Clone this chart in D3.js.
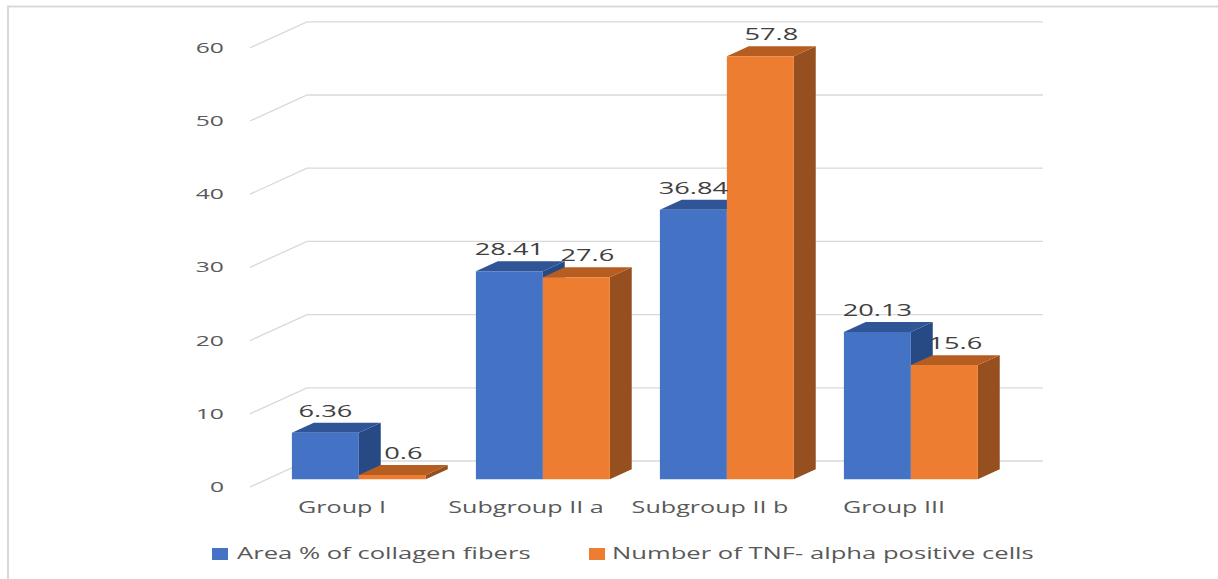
<!DOCTYPE html>
<html>
<head>
<meta charset="utf-8">
<script src="https://cdn.jsdelivr.net/npm/d3@7"></script>
<style>
  html, body { margin: 0; padding: 0; background: #ffffff; }
  svg { display: block; }
  text { font-family: "Open Sans", "DejaVu Sans", sans-serif; }
</style>
</head>
<body>
<svg id="chart" width="1218" height="579"></svg>
<script>
// Categories and series values
const categories = ["Group I", "Subgroup II a", "Subgroup II b", "Group III"];
const seriesNames = ["Area % of collagen fibers", "Number of TNF- alpha positive cells"];
const collagenArea = [6.36, 28.41, 36.84, 20.13];
const tnfPositiveCells = [0.6, 27.6, 57.8, 15.6];
const yTicks = [0, 10, 20, 30, 40, 50, 60];

// Face colours per series: front, top, side; label nudge along x
const palette = [
  { front: "#4472C4", top: "#2F5597", side: "#284A84", labelDx: 0 },
  { front: "#ED7D31", top: "#B65E22", side: "#964F1E", labelDx: 11 }
];

const svg = d3.select("#chart");

// 3D box geometry: front plane of the floor, and the offset to the back wall
const frontLeft = 250, frontRight = 986;
const floorY = 487, topY = 47.8;
const depthX = 57, depthY = 26;
const barZ0 = 0.296, barZ1 = 0.68;   // bar depth slab within the floor

const x0 = d3.scaleBand().domain(categories).range([frontLeft, frontRight])
  .paddingInner(0.272).paddingOuter(0.136);
const x1 = d3.scaleBand().domain(seriesNames).range([0, x0.bandwidth()]);
const y = d3.scaleLinear().domain([0, 60]).range([floorY, topY]);

const proj = (xf, v, z) => [xf + z * depthX, y(v) - z * depthY];

// Widen text horizontally by a factor
function stretch(sel, sx) {
  sel.each(function () {
    const w = this.getComputedTextLength();
    d3.select(this).attr("textLength", w * sx).attr("lengthAdjust", "spacingAndGlyphs");
  });
}

// Outer frame (left and top edges)
svg.append("path")
  .attr("d", "M8,579 L8,6.5 L1218,6.5")
  .attr("fill", "none").attr("stroke", "#D9D9D9").attr("stroke-width", 2);

// Gridlines: side-wall diagonal plus back-wall horizontal
const grid = svg.append("g");
yTicks.forEach(t => {
  const a = proj(frontLeft, t, 0), b = proj(frontLeft, t, 1), c = proj(frontRight, t, 1);
  grid.append("path")
    .attr("d", d3.line()([a, b, c]))
    .attr("fill", "none").attr("stroke", "#D9D9D9").attr("stroke-width", 1.3);
});

// Value axis labels
svg.append("g").selectAll("text").data(yTicks).join("text")
  .attr("x", 224).attr("y", d => y(d) + 5)
  .attr("text-anchor", "end")
  .attr("font-size", 14.5).attr("fill", "#595959")
  .text(d => d)
  .call(stretch, 1.7);

// Bars
const seriesValues = [collagenArea, tnfPositiveCells];
const poly = pts => "M" + pts.map(p => p.join(",")).join("L") + "Z";
const bars = svg.append("g");
categories.forEach((cat, ci) => {
  seriesNames.forEach((s, si) => {
    const v = seriesValues[si][ci];
    const xl = x0(cat) + x1(s), xr = xl + x1.bandwidth();
    const col = palette[si];
    const g = bars.append("g");
    const front = [proj(xl, 0, barZ0), proj(xr, 0, barZ0), proj(xr, v, barZ0), proj(xl, v, barZ0)];
    const top = [proj(xl, v, barZ0), proj(xr, v, barZ0), proj(xr, v, barZ1), proj(xl, v, barZ1)];
    const side = [proj(xr, 0, barZ0), proj(xr, v, barZ0), proj(xr, v, barZ1), proj(xr, 0, barZ1)];
    g.append("path").attr("d", poly(side)).attr("fill", col.side);
    g.append("path").attr("d", poly(top)).attr("fill", col.top);
    g.append("path").attr("d", poly(front)).attr("fill", col.front);
  });
});

// Data labels above each bar
const labels = svg.append("g");
categories.forEach((cat, ci) => {
  seriesNames.forEach((s, si) => {
    const v = seriesValues[si][ci];
    const xl = x0(cat) + x1(s), xr = xl + x1.bandwidth();
    const cx = proj((xl + xr) / 2, v, barZ0)[0] + palette[si].labelDx;
    const by = proj(xl, v, barZ1)[1] - 6;
    labels.append("text")
      .attr("x", cx).attr("y", by)
      .attr("text-anchor", "middle")
      .attr("font-size", 17).attr("fill", "#404040")
      .text(v)
      .call(stretch, 1.6);
  });
});

// Category axis labels
svg.append("g").selectAll("text").data(categories).join("text")
  .attr("x", d => x0(d) + x0.bandwidth() / 2)
  .attr("y", 513)
  .attr("text-anchor", "middle")
  .attr("font-size", 15.5).attr("fill", "#595959")
  .text(d => d)
  .call(stretch, 1.62);

// Legend
const legendItems = [
  { name: seriesNames[0], color: palette[0].front, sx: 212, tx: 237 },
  { name: seriesNames[1], color: palette[1].front, sx: 589, tx: 612 }
];
const legend = svg.append("g");
legendItems.forEach(it => {
  legend.append("rect")
    .attr("x", it.sx).attr("y", 548).attr("width", 16).attr("height", 12)
    .attr("fill", it.color);
  legend.append("text")
    .attr("x", it.tx).attr("y", 559)
    .attr("font-size", 16).attr("fill", "#595959")
    .text(it.name)
    .call(stretch, 1.6);
});
</script>
</body>
</html>
